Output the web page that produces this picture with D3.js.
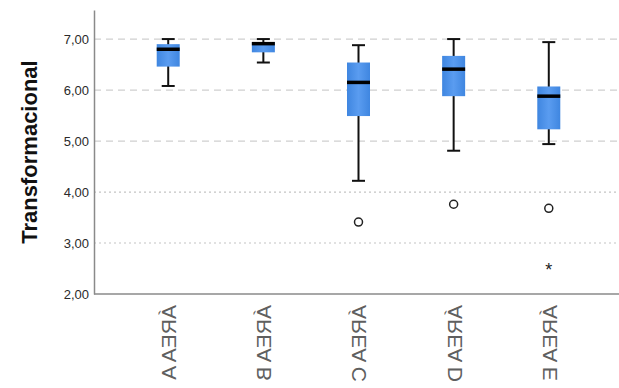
<!DOCTYPE html>
<meta charset="utf-8">
<head>
  <script src="https://d3js.org/d3.v7.min.js"></script>
  <style>
    body { margin: 0; background: #fff; }
    svg { display: block; font-family: Arial, "Liberation Sans", sans-serif; }
  </style>
</head>
<body>
<div id="chart"></div>
<script>
// categories and five-number summaries
var areas = ["ÁREA A", "ÁREA B", "ÁREA C", "ÁREA D", "ÁREA E"];
var whiskerLow  = [6.08, 6.54, 4.22, 4.81, 4.94];
var q1          = [6.46, 6.74, 5.49, 5.88, 5.23];
var median      = [6.80, 6.91, 6.15, 6.41, 5.88];
var q3          = [6.90, 6.94, 6.54, 6.67, 6.07];
var whiskerHigh = [7.00, 7.00, 6.88, 7.00, 6.94];
// outliers: [area index, value]
var outliers = [[2, 3.41], [3, 3.76], [4, 3.68]];
var extremes = [[4, 2.52]];
var yTicks = [2, 3, 4, 5, 6, 7];

var W = 619, H = 388;
var mLeft = 94, mRight = 623, mTop = 10, mBottom = 294;

var svg = d3.select("#chart").append("svg")
  .attr("width", W).attr("height", H);

var defs = svg.append("defs");
var grad = defs.append("linearGradient").attr("id", "boxfill")
  .attr("x1", "0%").attr("x2", "100%").attr("y1", "0%").attr("y2", "0%");
grad.append("stop").attr("offset", "0%").attr("stop-color", "#3f86e0");
grad.append("stop").attr("offset", "50%").attr("stop-color", "#5a9cf0");
grad.append("stop").attr("offset", "100%").attr("stop-color", "#3f86e0");

var x = d3.scalePoint().domain(areas).range([mLeft, mRight]).padding(0.78);
var y = d3.scaleLinear().domain([2, 7.57]).range([mBottom, mTop]);

// gridlines
svg.append("g").selectAll("line")
  .data(yTicks.filter(function(d) { return d > 2; }))
  .enter().append("line")
    .attr("x1", mLeft).attr("x2", W)
    .attr("y1", function(d) { return y(d); })
    .attr("y2", function(d) { return y(d); })
    .attr("stroke", function(d) { return d >= 5 ? "#cfcfcf" : "#c4c4c4"; })
    .attr("stroke-width", 1.2)
    .attr("stroke-dasharray", function(d) { return d >= 5 ? "7,5" : "2,3"; });

// y axis
var yAxis = svg.append("g")
  .attr("transform", "translate(" + mLeft + ",0)")
  .call(d3.axisLeft(y).tickValues(yTicks).tickSize(0).tickPadding(5)
    .tickFormat(function(d) { return d3.format(".2f")(d).replace(".", ","); }));
yAxis.select(".domain").attr("stroke", "#8a8a8a").attr("stroke-width", 1.5);
yAxis.selectAll("text").attr("font-size", "13px").attr("fill", "#2a2a2a")
  .attr("font-family", "Arial, 'Liberation Sans', sans-serif");

// x axis
var xAxis = svg.append("g")
  .attr("transform", "translate(0," + mBottom + ")")
  .call(d3.axisBottom(x).tickSize(0).tickPadding(0));
xAxis.select(".domain").attr("d", "M" + mLeft + ",0H" + W)
  .attr("stroke", "#8a8a8a").attr("stroke-width", 1.5);
xAxis.selectAll("text")
  .attr("font-size", "21px").attr("fill", "#5f5f5f")
  .attr("font-family", "Arial, 'Liberation Sans', sans-serif")
  .attr("text-anchor", "start")
  .attr("dy", "0.35em").attr("y", 0)
  .attr("transform", "translate(0,11) rotate(90) scale(1,-1)");

// y title
svg.append("text")
  .attr("transform", "translate(37," + (mTop + mBottom) / 2 + ") rotate(-90)")
  .attr("text-anchor", "middle")
  .attr("font-size", "22px").attr("font-weight", "bold").attr("fill", "#111")
  .text("Transformacional");

var boxW = 23, capW = 13;
var g = svg.append("g");
areas.forEach(function(a, i) {
  var cx = x(a);
  g.append("line").attr("x1", cx).attr("x2", cx)
    .attr("y1", y(whiskerHigh[i])).attr("y2", y(whiskerLow[i]))
    .attr("stroke", "#111").attr("stroke-width", 2);
  [whiskerHigh[i], whiskerLow[i]].forEach(function(v) {
    g.append("line").attr("x1", cx - capW / 2).attr("x2", cx + capW / 2)
      .attr("y1", y(v)).attr("y2", y(v))
      .attr("stroke", "#111").attr("stroke-width", 2);
  });
  g.append("rect")
    .attr("x", cx - boxW / 2).attr("width", boxW)
    .attr("y", y(q3[i])).attr("height", y(q1[i]) - y(q3[i]))
    .attr("fill", "url(#boxfill)");
  g.append("line").attr("x1", cx - boxW / 2).attr("x2", cx + boxW / 2)
    .attr("y1", y(median[i])).attr("y2", y(median[i]))
    .attr("stroke", "#000").attr("stroke-width", 3.5);
});

g.selectAll("circle.out").data(outliers).enter().append("circle")
  .attr("cx", function(d) { return x(areas[d[0]]); })
  .attr("cy", function(d) { return y(d[1]); })
  .attr("r", 4).attr("fill", "none")
  .attr("stroke", "#222").attr("stroke-width", 1.5);

g.selectAll("text.ext").data(extremes).enter().append("text")
  .attr("x", function(d) { return x(areas[d[0]]); })
  .attr("y", function(d) { return y(d[1]); })
  .attr("dy", "0.5em")
  .attr("text-anchor", "middle")
  .attr("font-size", "18px").attr("fill", "#222")
  .text("*");
</script>
</body>
